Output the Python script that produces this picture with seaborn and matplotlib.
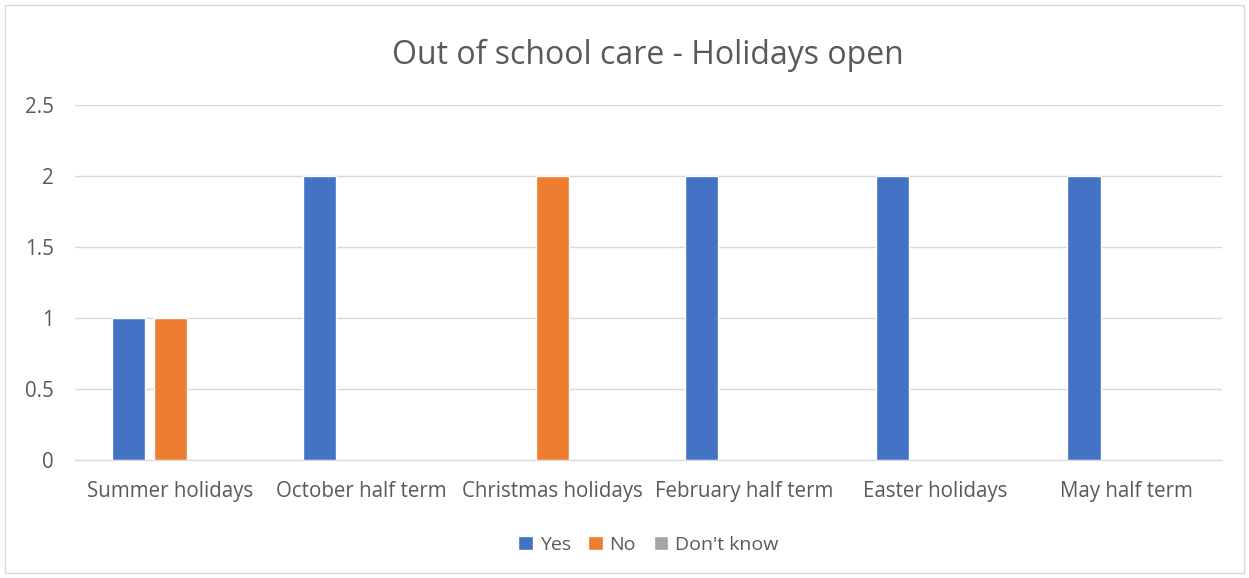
import pandas as pd
import seaborn as sns
import matplotlib.pyplot as plt
from matplotlib.ticker import FuncFormatter
from matplotlib.patches import Rectangle

categories = ["Summer holidays", "October half term", "Christmas holidays",
              "February half term", "Easter holidays", "May half term"]
series_names = ["Yes", "No", "Don't know"]
yes_vals = [1, 2, 0, 2, 2, 2]
no_vals = [1, 0, 2, 0, 0, 0]
dont_know_vals = [0, 0, 0, 0, 0, 0]
colors = ["#4472C4", "#ED7D31", "#A5A5A5"]

# long table for seaborn
df = pd.DataFrame({
    "period": categories * 3,
    "answer": [s for s in series_names for _ in categories],
    "count": yes_vals + no_vals + dont_know_vals,
})

sns.set_style("white")
plt.rcParams["font.family"] = ["Open Sans", "DejaVu Sans"]

fig = plt.figure(figsize=(12.49, 5.78), dpi=100)
ax = fig.add_axes([0.06, 0.204, 0.918, 0.614])
sns.barplot(data=df, x="period", y="count", hue="answer", order=categories,
            hue_order=series_names, palette=colors, width=0.66, gap=0.21,
            saturation=1, ax=ax, legend=True)

ax.set_ylim(0, 2.5)
ax.set_yticks([0, 0.5, 1, 1.5, 2, 2.5])
ax.yaxis.set_major_formatter(FuncFormatter(lambda v, p: f"{v:g}"))
ax.grid(axis="y", color="#D9D9D9", linewidth=1)
ax.set_axisbelow(True)
for s in ["left", "right", "top"]:
    ax.spines[s].set_visible(False)
ax.spines["bottom"].set_color("#D9D9D9")
ax.tick_params(axis="both", length=0, labelsize=14.8, colors="#595959")
ax.tick_params(axis="x", pad=15)
ax.tick_params(axis="y", pad=15)
ax.set_xlabel("")
ax.set_ylabel("")
ax.set_title("Out of school care - Holidays open", fontsize=23, color="#595959", pad=30)

ax.legend(loc="upper center", bbox_to_anchor=(0.5, -0.165), ncol=3, frameon=False,
          fontsize=14, handlelength=0.75, handleheight=0.75, handletextpad=0.35,
          columnspacing=0.9, labelcolor="#595959")

fig.patches.append(Rectangle((0.004, 0.008), 0.992, 0.984, transform=fig.transFigure,
                             fill=False, edgecolor="#D9D9D9", linewidth=1))

fig.savefig("out.png", dpi=100)
